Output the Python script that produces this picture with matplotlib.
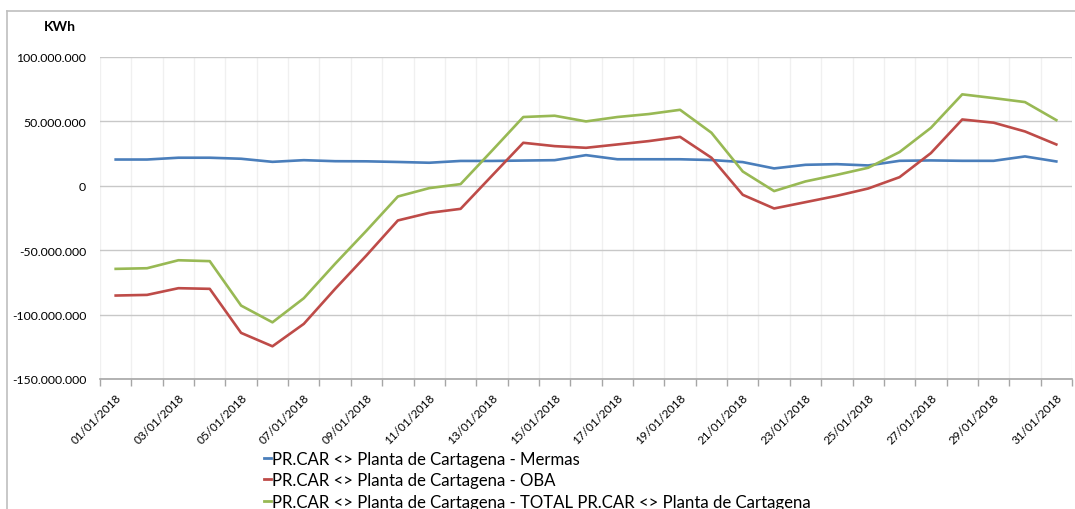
import matplotlib
matplotlib.use("Agg")
import matplotlib.pyplot as plt
from matplotlib.ticker import FuncFormatter, FixedLocator
from matplotlib.lines import Line2D

plt.rcParams['font.family'] = ['Lato', 'DejaVu Sans']

dates = [f"{d:02d}/01/2018" for d in range(1, 32)]

mermas = [20.4, 20.4, 21.8, 21.8, 21.0, 18.6, 19.9, 19.1, 19.0, 18.5, 17.9, 19.3,
          19.3, 19.6, 19.9, 23.8, 20.6, 20.6, 20.6, 20.0, 18.4, 13.5, 16.3, 16.8,
          15.8, 19.4, 19.7, 19.4, 19.4, 22.8, 18.9]
oba = [-85.2, -84.7, -79.5, -80.0, -114.2, -124.6, -107.2, -80.0, -54.0, -26.9,
       -21.0, -17.9, 7.8, 33.4, 30.8, 29.5, 32.1, 34.7, 38.0, 21.8, -7.0, -17.6,
       -12.7, -7.8, -2.1, 6.7, 25.4, 51.5, 49.0, 42.2, 32.1]
total = [-64.5, -64.0, -57.8, -58.5, -93.0, -106.0, -87.3, -60.5, -34.8, -8.3,
         -1.8, 1.3, 27.2, 53.4, 54.4, 50.0, 53.4, 55.7, 59.0, 41.2, 11.1, -4.1,
         3.4, 8.5, 14.0, 26.2, 45.0, 71.0, 68.1, 65.0, 51.0]

series_names = ["PR.CAR <> Planta de Cartagena - Mermas",
                "PR.CAR <> Planta de Cartagena - OBA",
                "PR.CAR <> Planta de Cartagena - TOTAL PR.CAR <> Planta de Cartagena"]
colors = ["#4a7ebb", "#be4b48", "#98b954"]
yticks = [-150, -100, -50, 0, 50, 100]

W, H = 1075, 510
fig = plt.figure(figsize=(W / 100, H / 100), dpi=100)
ax = fig.add_axes([100 / W, 1 - 380 / H, (1072 - 100) / W, (380 - 58) / H])

x = list(range(len(dates)))
scale = 1e6
for vals, c, name in zip([mermas, oba, total], colors, series_names):
    ax.plot(x, [v * scale for v in vals], color=c, lw=1.9, label=name,
            solid_joinstyle='round')

ax.set_xlim(-0.5, len(dates) - 0.5)
ax.set_ylim(yticks[0] * scale, yticks[-1] * scale)
ax.set_yticks([t * scale for t in yticks])
ax.yaxis.set_major_formatter(FuncFormatter(lambda v, p: f"{int(round(v)):,}".replace(",", ".")))
ax.tick_params(axis='y', length=0, pad=10, labelsize=8.8, colors='#000000')
ax.grid(axis='y', color='#c8c8c8', lw=1)

# category boundaries: tick marks + faint vertical grid
bounds = [i - 0.5 for i in range(len(dates) + 1)]
ax.xaxis.set_minor_locator(FixedLocator(bounds))
ax.grid(axis='x', which='minor', color='#f0f0f0', lw=1)
ax.tick_params(axis='x', which='minor', length=5, width=1, color='#a6a6a6')
lab_idx = list(range(0, len(dates), 2))
ax.set_xticks(lab_idx)
ax.set_xticklabels([dates[i] for i in lab_idx], rotation=45, ha='right',
                   rotation_mode='anchor', fontsize=8.5)
ax.tick_params(axis='x', which='major', length=0, pad=9)
ax.set_axisbelow(True)

for s in ['left', 'right', 'top']:
    ax.spines[s].set_visible(False)
ax.spines['bottom'].set_color('#a6a6a6')
ax.spines['bottom'].set_linewidth(1.2)

fig.text(60 / W, 1 - 27 / H, "KWh", fontsize=10, fontweight='bold', ha='center', va='center')

# outer frame
fig.add_artist(Line2D([7 / W, 7 / W], [0, 1 - 12 / H], color='#bfbfbf', lw=1.2))
fig.add_artist(Line2D([7 / W, 1], [1 - 12 / H, 1 - 12 / H], color='#bfbfbf', lw=1.2))

handles = [Line2D([0], [0], color=c, lw=2) for c in colors]
fig.legend(handles, series_names, loc='upper left', bbox_to_anchor=(264 / W, 1 - 452 / H),
           frameon=False, handlelength=0.4, handletextpad=0.05, labelspacing=0.32,
           fontsize=12.1, borderaxespad=0, borderpad=0)

fig.savefig("out.png", dpi=100)
